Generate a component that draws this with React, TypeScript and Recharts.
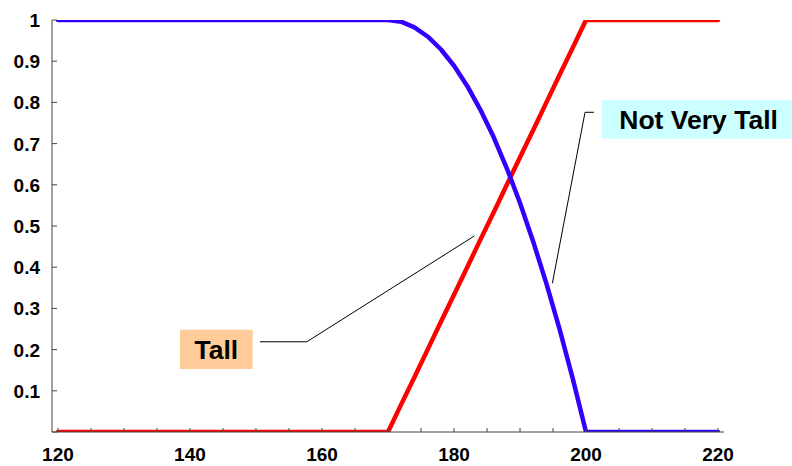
import React from 'react';
import { LineChart, Line, XAxis, YAxis, ReferenceLine, ReferenceArea } from 'recharts';

const heights = [120, 170, 172, 174, 176, 178, 180, 182, 184, 186, 188, 190, 192, 194, 196, 198, 200, 220];
const tall = [0, 0, 0.067, 0.133, 0.2, 0.267, 0.333, 0.4, 0.467, 0.533, 0.6, 0.667, 0.733, 0.8, 0.867, 0.933, 1, 1];
const notVeryTall = [1, 1, 0.996, 0.982, 0.96, 0.929, 0.889, 0.84, 0.782, 0.716, 0.64, 0.556, 0.462, 0.36, 0.249, 0.129, 0, 0];

const xTicks = [120, 125, 130, 135, 140, 145, 150, 155, 160, 165, 170, 175, 180, 185, 190, 195, 200, 205, 210, 215, 220];
const xLabelTicks = [120, 140, 160, 180, 200, 220];
const yTicks = [0, 0.1, 0.2, 0.3, 0.4, 0.5, 0.6, 0.7, 0.8, 0.9, 1];

const tallLabel = 'Tall';
const nvtLabel = 'Not Very Tall';

// annotation anchors in data coordinates
const tallBox = { x1: 138.5, x2: 149.5, y1: 0.153, y2: 0.248 };
const tallLeader = [
  [{ x: 150.6, y: 0.219 }, { x: 157.7, y: 0.219 }],
  [{ x: 157.7, y: 0.219 }, { x: 183.1, y: 0.476 }],
];
const nvtBox = { x1: 202.4, x2: 231.7, y1: 0.712, y2: 0.805 };
const nvtLeader = [
  [{ x: 201.2, y: 0.776 }, { x: 199.85, y: 0.776 }],
  [{ x: 199.85, y: 0.776 }, { x: 194.9, y: 0.361 }],
];

const data = heights.map((h, i) => ({ x: h, tall: tall[i], nvt: notVeryTall[i] }));

const fmtY = (v: number) => (v === 1 ? '1' : v.toFixed(1));

const XTick = (props: any) => {
  const { x, y, payload } = props;
  const v = payload.value;
  const showLabel = xLabelTicks.includes(v);
  return (
    <g>
      <line x1={x} y1={y} x2={x} y2={y - 4} stroke="#444" strokeWidth={1} />
      {showLabel && (
        <text x={x} y={y + 29} textAnchor="middle" fontSize={19} fontWeight="bold" fill="#000">
          {v}
        </text>
      )}
    </g>
  );
};

const YTick = (props: any) => {
  const { x, y, payload } = props;
  const v = payload.value;
  return (
    <g>
      <line x1={x} y1={y} x2={x + 5} y2={y} stroke="#444" strokeWidth={1} />
      {v > 0 && (
        <text x={x - 12} y={y + 7} textAnchor="end" fontSize={19} fontWeight="bold" fill="#000">
          {fmtY(v)}
        </text>
      )}
    </g>
  );
};

export default function App() {
  return (
    <div style={{ position: 'absolute', left: 0, top: 0, fontFamily: '"Liberation Sans", Arial, sans-serif', background: '#fff' }}>
      <LineChart width={792} height={466} data={data} margin={{ top: 20, right: 68, bottom: 0, left: 0 }}>
        <XAxis
          dataKey="x"
          type="number"
          domain={[119.1, 220.9]}
          allowDataOverflow
          ticks={xTicks}
          interval={0}
          height={34}
          tickSize={0}
          tickMargin={0}
          tickLine={false}
          tick={XTick}
          stroke="#444"
        />
        <YAxis
          type="number"
          domain={[0, 1]}
          allowDataOverflow
          ticks={yTicks}
          interval={0}
          width={52}
          tickSize={0}
          tickMargin={0}
          tickLine={false}
          tick={YTick}
          stroke="#444"
        />
        <ReferenceArea
          x1={tallBox.x1}
          x2={tallBox.x2}
          y1={tallBox.y1}
          y2={tallBox.y2}
          fill="#FFCC99"
          fillOpacity={1}
          stroke="none"
          ifOverflow="visible"
          label={{ value: tallLabel, position: 'center', fill: '#000', fontSize: 26.5, fontWeight: 'bold' }}
        />
        <ReferenceArea
          x1={nvtBox.x1}
          x2={nvtBox.x2}
          y1={nvtBox.y1}
          y2={nvtBox.y2}
          fill="#CCFFFF"
          fillOpacity={1}
          stroke="none"
          ifOverflow="visible"
          label={{ value: nvtLabel, position: 'center', fill: '#000', fontSize: 26.5, fontWeight: 'bold' }}
        />
        {[...tallLeader, ...nvtLeader].map((seg, i) => (
          <ReferenceLine key={i} segment={seg} stroke="#000" strokeWidth={1} ifOverflow="visible" />
        ))}
        <Line
          type="linear"
          dataKey="tall"
          stroke="#FF0000"
          strokeWidth={4.5}
          dot={false}
          isAnimationActive={false}
          strokeLinecap="round"
          strokeLinejoin="round"
        />
        <Line
          type="linear"
          dataKey="nvt"
          stroke="#3300FF"
          strokeWidth={4.5}
          dot={false}
          isAnimationActive={false}
          strokeLinecap="round"
          strokeLinejoin="round"
        />
      </LineChart>
    </div>
  );
}
